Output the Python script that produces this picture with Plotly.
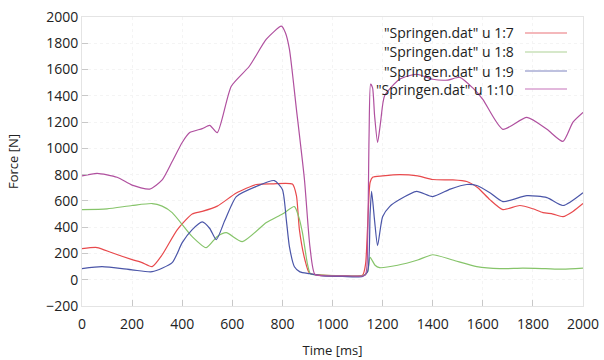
import plotly.graph_objects as go

# Time points (ms) and series values (N)
t7 = [0, 60, 120, 200, 240, 280, 320, 380, 440, 480, 540, 616, 696, 760, 840, 856, 868, 890, 908, 960, 1040, 1120, 1132, 1140, 1150, 1160, 1200, 1268, 1340, 1400, 1480, 1536, 1580, 1628, 1680, 1748, 1800, 1840, 1880, 1920, 1960, 2000]
y7 = [236, 245, 205, 153, 130, 100, 190, 380, 500, 520, 560, 660, 725, 730, 728, 640, 380, 150, 50, 35, 30, 35, 120, 400, 740, 780, 790, 800, 790, 763, 760, 748, 700, 610, 534, 565, 540, 511, 500, 480, 520, 580]

t8 = [0, 100, 200, 280, 320, 360, 440, 496, 540, 576, 640, 736, 800, 848, 865, 880, 900, 912, 960, 1040, 1120, 1140, 1150, 1170, 1188, 1260, 1340, 1400, 1480, 1576, 1668, 1760, 1850, 1920, 2000]
y8 = [534, 540, 565, 580, 560, 511, 328, 244, 330, 358, 290, 435, 500, 557, 480, 358, 120, 45, 35, 30, 30, 60, 170, 110, 92, 110, 150, 190, 150, 100, 84, 88, 84, 80, 88]

t9 = [0, 80, 200, 280, 360, 400, 440, 480, 510, 536, 570, 616, 696, 768, 800, 816, 828, 848, 870, 908, 960, 1040, 1120, 1140, 1150, 1156, 1168, 1180, 1200, 1228, 1268, 1336, 1400, 1470, 1536, 1576, 1630, 1680, 1776, 1856, 1920, 2000]
y9 = [84, 99, 75, 61, 130, 282, 381, 440, 390, 305, 450, 633, 710, 755, 687, 450, 252, 99, 60, 46, 30, 25, 25, 60, 500, 672, 450, 260, 480, 557, 610, 672, 633, 690, 725, 717, 660, 595, 640, 625, 565, 663]

t10 = [0, 60, 140, 200, 270, 320, 360, 400, 430, 480, 510, 540, 596, 668, 736, 796, 812, 828, 856, 888, 910, 930, 980, 1060, 1130, 1140, 1146, 1152, 1160, 1168, 1180, 1192, 1208, 1268, 1336, 1400, 1460, 1508, 1560, 1600, 1680, 1776, 1856, 1920, 1960, 2000]
y10 = [790, 810, 780, 720, 690, 760, 900, 1045, 1120, 1150, 1175, 1120, 1473, 1625, 1831, 1930, 1880, 1755, 1297, 763, 250, 40, 30, 30, 35, 300, 1100, 1490, 1460, 1250, 1045, 1200, 1400, 1526, 1564, 1526, 1520, 1541, 1460, 1373, 1145, 1236, 1145, 1053, 1200, 1274]

names = ['"Springen.dat" u 1:7', '"Springen.dat" u 1:8', '"Springen.dat" u 1:9', '"Springen.dat" u 1:10']
colors = ["#e8494c", "#86c46a", "#4a55a8", "#b0509f"]
legend_colors = ["#f0a0a4", "#c8e0b8", "#a8acd4", "#d8a0d0"]

x_ticks = [0, 200, 400, 600, 800, 1000, 1200, 1400, 1600, 1800, 2000]
y_ticks = [-200, 0, 200, 400, 600, 800, 1000, 1200, 1400, 1600, 1800, 2000]

fig = go.Figure()
for tt, yy, c in zip([t7, t8, t9, t10], [y7, y8, y9, y10], colors):
    fig.add_trace(go.Scatter(x=tt, y=yy, mode="lines",
                             line=dict(color=c, width=1.2, shape="spline", smoothing=0.6),
                             showlegend=False))

font = "Open Sans, DejaVu Sans, sans-serif"
L, R, T, B = 82, 583, 17, 306  # plot area in page pixels
W, H = R - L, B - T

def px(xp):
    return (xp - L) / W

def py(yp):
    return (B - yp) / H

# legend drawn as right-aligned text with line sample on the right (gnuplot style)
leg_y = [33, 52, 71, 89]
for name, c, yy in zip(names, legend_colors, leg_y):
    fig.add_annotation(xref="paper", yref="paper", x=px(516), y=py(yy), xanchor="right", yanchor="middle",
                       text=name, showarrow=False, font=dict(family=font, size=14, color="#222"))
    fig.add_shape(type="line", xref="paper", yref="paper", x0=px(525), x1=px(567), y0=py(yy), y1=py(yy),
                  line=dict(color=c, width=1.5))

fig.update_layout(
    width=604, height=360,
    margin=dict(l=L, r=604 - R, t=T, b=360 - B),
    paper_bgcolor="white", plot_bgcolor="white",
    font=dict(family=font, size=14, color="#222"),
    xaxis=dict(range=[0, 2000], tickvals=x_ticks, showgrid=True, gridcolor="#f4f4f4", griddash="dot",
               showline=True, linecolor="#e4e4e4", mirror=True, ticks="inside", ticklen=6, tickcolor="#c8c8c8",
               zeroline=False, automargin=False, ticklabelstandoff=5,
               title=dict(text="Time [ms]", font=dict(size=13), standoff=14)),
    yaxis=dict(range=[-200, 2000], tickvals=y_ticks, showgrid=True, gridcolor="#f4f4f4", griddash="dot",
               showline=True, linecolor="#e4e4e4", mirror=True, ticks="inside", ticklen=6, tickcolor="#c8c8c8",
               zeroline=False, automargin=False,
               title=dict(text="Force [N]", font=dict(size=13), standoff=24)),
)
fig.write_html("out.html")
